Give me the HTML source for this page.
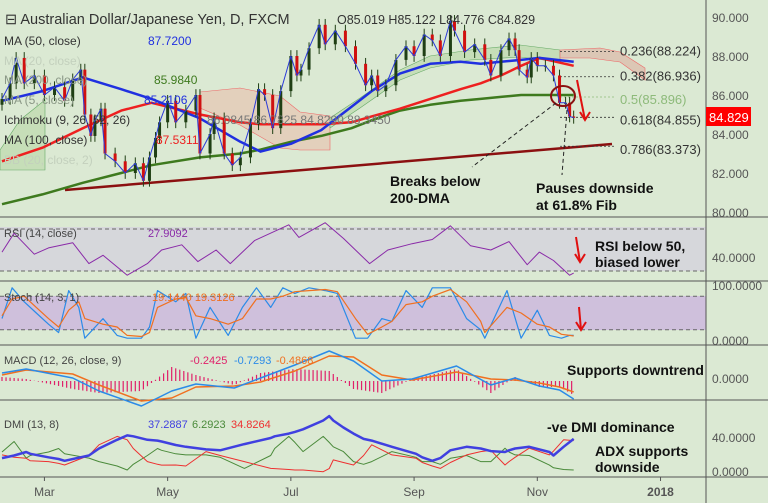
<!DOCTYPE html>
<html><head><meta charset="utf-8"><style>
body{margin:0;background:#dbe9d3;}
svg{display:block;font-family:"Liberation Sans",sans-serif;}
</style></head><body>
<svg id="c" width="768" height="503" viewBox="0 0 768 503" xmlns="http://www.w3.org/2000/svg">
<rect x="0" y="0" width="768" height="503" fill="#dbe9d3"/>
<rect x="0" y="227" width="706" height="44" fill="#d6d7db"/>
<rect x="0" y="296" width="706" height="34" fill="#cfc0dc"/>
<g id="g"></g>
</svg>
<script>
// ===== data =====
const priceDays=[0,4,7,11,16,21,26,31,35,39,41,44,46,49,51,56,61,66,70,73,76,78,82,86,91,96,98,103,105,110,114,118,123,127,130,134,138,143,146,148,152,157,160,165,170,175,180,183,186,190,195,200,204,209,213,217,222,224,229,234,239,242,247,251,254,256,260,262,265,269,273,276,279,281,283];
const closes=[85.8,86.6,87.9,86.6,87.0,86.0,86.4,85.7,86.8,87.3,85.0,83.9,84.7,85.3,83.0,82.6,82.0,82.5,81.6,82.8,83.8,84.6,85.7,84.6,85.2,86.0,83.0,84.0,84.8,83.0,82.4,82.8,84.5,86.3,86.0,84.3,86.2,88.0,87.0,87.3,88.4,89.6,88.6,89.3,88.5,87.6,86.5,87.0,86.2,86.5,87.8,88.5,88.0,89.1,88.8,88.0,89.8,89.3,88.2,88.6,87.8,87.0,88.3,88.9,88.3,87.3,86.9,87.9,87.5,87.5,87.0,85.6,85.6,84.9,84.83];
const maDays=[0,20,40,59,74,98,118,128,143,158,173,183,197,212,227,237,247,257,266,283];
const ma50=[85.7,86.2,86.9,86.3,85.8,84.8,83.6,83.1,83.5,84.2,85.4,86.2,87.1,87.6,87.7,87.6,87.7,87.8,87.9,87.7];
const ma100=[82.6,83.3,84.3,85.2,85.6,85.0,84.6,84.5,84.5,84.5,84.6,84.9,85.3,85.8,86.3,86.6,87.0,87.5,87.9,87.5];
const ma200=[80.4,80.9,81.5,82.0,82.4,82.8,83.0,83.2,83.6,83.9,84.3,84.7,85.2,85.5,85.7,85.8,85.9,86.0,86.0,86.0];
const rsiDays=[0,6,16,23,35,43,50,62,72,79,89,97,106,113,125,142,147,160,169,182,191,203,213,222,232,242,251,260,266,273,281,283];
const rsi=[48,66,46,52,57,37,45,26,37,50,55,39,50,37,59,74,62,76,61,37,50,56,60,73,54,50,58,36,48,40,26,28];
const stDays=[0,5,11,17,23,28,33,38,41,50,57,62,69,73,77,86,91,96,103,112,119,126,133,139,145,152,160,166,175,181,188,193,200,208,213,222,230,237,239,250,257,265,271,277,281,283];
const stochK=[40,95,70,50,30,15,90,60,5,40,10,5,5,25,90,70,85,5,60,10,60,95,60,95,85,95,90,85,5,5,40,35,90,60,95,95,40,20,5,90,5,55,10,5,10,10];
const stochD=[45,75,80,60,40,25,55,70,40,30,25,10,8,15,60,75,78,45,40,30,40,75,75,80,88,90,92,88,40,12,25,35,65,70,80,92,70,35,15,60,50,30,25,12,10,9];
const macdDays=[0,12,35,48,69,84,96,115,128,145,162,174,188,203,225,242,254,266,276,283];
const macd=[0.4,0.6,0.15,-0.5,-1.25,-0.5,-0.15,-0.35,0.15,0.8,1.5,1.0,0.0,0.1,0.75,-0.2,0.15,-0.25,-0.45,-0.9];
const signal=[0.3,0.55,0.35,-0.2,-1.0,-0.85,-0.3,-0.25,-0.05,0.5,1.25,1.2,0.3,0.05,0.45,0.1,0.05,-0.1,-0.3,-0.55];
const dmiDays=[0,6,12,14,23,28,31,43,48,57,62,65,72,77,79,86,91,101,108,120,133,135,142,145,149,159,162,164,169,174,179,183,193,205,208,213,217,222,230,237,242,249,251,254,261,271,273,278,283];
const adx=[17,20,24,22,18,16,14,20,28,38,43,42,38,37,36,32,30,27,26,33,40,42,45,47,50,60,65,60,52,45,39,37,30,22,18,14,17,26,30,28,25,24,26,28,30,24,20,30,39];
const plusDI=[24,36,17,20,24,28,22,17,13,8,3.4,10,20,28,26,22,20.7,20.7,18,5.3,20,28,41.8,35,24.5,41.8,35,30,24.5,13,10,13,24.5,18,13,13,10,16.8,20,13,13,28.3,24,20.7,20,9,6,4,3.4];
const minusDI=[20.7,18,16.8,14,13,11,9.1,20,32.2,41.8,38,28,13,10,9,9.1,8,24.5,20,13,5.3,5,4,3.4,3.4,1.5,5,15,12,9.1,20,32.2,20.7,16.8,12,8,5.3,12,20.7,24.5,26,9.1,13,18,28.3,20.7,25,38,37];
const priceTicks=[80,82,84,86,88,90];
const monthLabels=["Mar","May","Jul","Sep","Nov","2018"];
const monthDays=[21,82,143,204,265,326];

// ===== scales =====
const NS="http://www.w3.org/2000/svg";
const G=document.getElementById('g');
const X=d=>2+2.02*d;
const yP=v=>212-(v-80)*19.5;
const yR=v=>302.5-1.05*v;
const yS=v=>341-0.56*v;
const yM=v=>381-20*v;
const yD=v=>473-0.875*v;
function el(tag,attrs,parent){const e=document.createElementNS(NS,tag);for(const k in attrs)e.setAttribute(k,attrs[k]);(parent||G).appendChild(e);return e;}
function txt(x,y,s,attrs){const t=el('text',Object.assign({x:x,y:y},attrs));t.textContent=s;return t;}
function poly(days,vals,ys,color,w,name){
  const pts=days.map((d,i)=>X(d).toFixed(1)+','+ys(vals[i]).toFixed(1)).join(' ');
  const p=el('polyline',{points:pts,fill:'none',stroke:color,'stroke-width':w,'stroke-linejoin':'round'});
  
  
  return p;
}

// ichimoku clouds (approx)
const c1=el('polygon',{points:'200,92 240,88 280,96 300,112 330,116 330,150 300,150 280,148 240,125 200,108',fill:'#e3d0bc',stroke:'#e66',"stroke-width":0.6});

const c2=el('polygon',{points:'0,150 20,120 45,100 45,170 0,170',fill:'#c6deb8',stroke:'#6a6',"stroke-width":0.6});

const c3=el('polygon',{points:'330,118 360,98 400,70 430,56 470,50 520,45 560,50 560,62 520,57 470,60 430,68 400,80 360,108 330,128',fill:'#c6deb8',stroke:'#6a6',"stroke-width":0.6});

const c4=el('polygon',{points:'560,50 600,48 620,52 645,68 645,80 620,62 590,58 560,58',fill:'#dcc7b5',stroke:'#e66',"stroke-width":0.6});


// separators & axis
[217,281,345,400,477].forEach(y=>{const l=el('line',{x1:0,x2:768,y1:y,y2:y,stroke:'#555','stroke-width':1});});
const ax=el('line',{x1:706,x2:706,y1:0,y2:503,stroke:'#555','stroke-width':1});
[[yR(70)],[yR(30)],[yS(80)],[yS(20)]].forEach(a=>{const l=el('line',{x1:0,x2:706,y1:a[0],y2:a[0],stroke:'#666','stroke-dasharray':'4,3','stroke-width':1});});

// ticks
priceTicks.forEach(v=>{const t=txt(712,yP(v)+5,v.toFixed(3),{fill:'#555','font-size':12});});
const oscTicks=[[262,'40.0000'],[290,'100.0000'],[345,'0.0000'],[383,'0.0000'],[442,'40.0000'],[476,'0.0000']];
oscTicks.forEach(a=>{const t=txt(712,a[0],a[1],{fill:'#555','font-size':12});});
monthLabels.forEach((m,i)=>{const x=X(monthDays[i]);const tk=el('line',{x1:x,x2:x,y1:477,y2:481,stroke:'#555'});
  const t=txt(x,496,m,{fill:'#555','font-size':12,'text-anchor':'middle','font-weight':m==='2018'?'bold':'normal'});});

// trendline and fib
const tl=el('line',{x1:65,y1:190,x2:612,y2:144,stroke:'#8b1010','stroke-width':2.5});
const fibs=[[88.224,'0.236(88.224)','#333',4],[86.936,'0.382(86.936)','#333',4],[85.896,'0.5(85.896)','#8dba7a',7],[84.855,'0.618(84.855)','#333',7],[83.373,'0.786(83.373)','#333',8]];
fibs.forEach(f=>{const y=yP(f[0]);const l=el('line',{x1:560,x2:615,y1:y,y2:y,stroke:f[2],'stroke-dasharray':'2,2','stroke-width':0.8});
  const t=txt(620,y+f[3],f[1],{fill:f[2],'font-size':13});});

// MAs
poly(maDays,ma200,yP,'#3e7a1e',2.5,'ma200-line');
poly(maDays,ma100,yP,'#ee2020',2.5,'ma100-line');
poly(maDays,ma50,yP,'#2030e0',2.5,'ma50-line');

// candles
closes.forEach((c,i)=>{const o=i?closes[i-1]:c-0.3;const x=X(priceDays[i]);const hi=Math.max(o,c)+0.3,lo=Math.min(o,c)-0.3;
  const col=c>=o?'#1f3f14':'#d01010';
  const w=el('line',{x1:x,x2:x,y1:yP(hi),y2:yP(lo),stroke:'#1f3f14','stroke-width':1});
  const b=el('rect',{x:x-1.5,y:Math.min(yP(o),yP(c)),width:3,height:Math.max(1,Math.abs(yP(o)-yP(c))),fill:col});});
poly(priceDays,closes,yP,'#2a3ad8',1,'ma5-line');

// indicators
poly(rsiDays,rsi,yR,'#8a2aa8',1,'rsi-line');
poly(stDays,stochK,yS,'#2b8be8',1.2,'stoch-k-line');
poly(stDays,stochD,yS,'#f07020',1.2,'stoch-d-line');
for(let d=0;d<=283;d+=2){let k=0;while(k<macdDays.length-2&&macdDays[k+1]<d)k++;const t=(d-macdDays[k])/(macdDays[k+1]-macdDays[k]);
  const h=(macd[k]+(macd[k+1]-macd[k])*t)-(signal[k]+(signal[k+1]-signal[k])*t);
  const b=el('rect',{x:X(d)-0.6,y:Math.min(yM(0),yM(h*2)),width:1.2,height:Math.abs(yM(h*2)-yM(0)),fill:'#e0206a'});}
poly(macdDays,signal,yM,'#f07020',1.5,'macd-signal-line');
poly(macdDays,macd,yM,'#2b8be8',1.5,'macd-line');
poly(dmiDays,plusDI,yD,'#4a8a3a',1,'plus-di-line');
poly(dmiDays,minusDI,yD,'#ee3030',1,'minus-di-line');
poly(dmiDays,adx,yD,'#4040e0',2.5,'adx-line');

// circle & arrows
const ci=el('ellipse',{cx:563,cy:96,rx:12,ry:10,fill:'none',stroke:'#8b1010','stroke-width':2});
[[556,103,472,167],[567,110,562,175]].forEach(a=>{const l=el('line',{x1:a[0],y1:a[1],x2:a[2],y2:a[3],stroke:'#222','stroke-dasharray':'4,3'});});
const ar=[[577,80,585,120],[576,237,580,262],[579,307,581,330]];
ar.forEach(a=>{const l=el('line',{x1:a[0],y1:a[1],x2:a[2],y2:a[3],stroke:'#e01010','stroke-width':2});
  const h=el('polyline',{points:(a[2]-5)+','+(a[3]-8)+' '+a[2]+','+a[3]+' '+(a[2]+5)+','+(a[3]-8),fill:'none',stroke:'#e01010','stroke-width':2});});

// price tag
const pt=el('rect',{x:706,y:107,width:45,height:19,fill:'#f00'});
const ptt=txt(709,122,'84.829',{fill:'#fff','font-size':13});

// legend texts
const L=[[5,24,'⊟ Australian Dollar/Japanese Yen, D, FXCM','#333',14.5,'chart-title'],
[337,24,'O85.019   H85.122   L84.776   C84.829','#333',12.5,'ohlc-values'],
[4,45,'MA (50, close)','#333',12,'ma50-legend'],[148,45,'87.7200','#2030e0',12,'ma50-value'],
[4,65,'MA (20, close)','#c3d0bd',12,'ma20-legend'],
[4,84,'MA (200, close)','#8a9786',12,'ma200-legend'],[154,84,'85.9840','#3e7a1e',12,'ma200-value'],
[4,104,'MA (5, close)','#8a9786',12,'ma5-legend'],[144,104,'85.2106','#2030e0',12,'ma5-value'],
[4,124,'Ichimoku (9, 26, 52, 26)','#333',12,'ichimoku-legend'],[207,124,'86.0845    86.7825    84.8290    88.3450','#777',12,'ichimoku-values'],
[4,144,'MA (100, close)','#333',12,'ma100-legend'],[156,144,'87.5311','#ee2020',12,'ma100-value'],
[4,164,'BB (20, close, 2)','#c3d0bd',12,'bb-legend'],
[4,237,'RSI (14, close)','#444',11,'rsi-legend'],[148,237,'27.9092','#8a2aa8',11,'rsi-value'],
[4,301,'Stoch (14, 3, 1)','#444',11,'stoch-legend'],[152,301,'19.1440  19.3126','#f07020',11,'stoch-values'],
[4,364,'MACD (12, 26, close, 9)','#444',11,'macd-legend'],[190,364,'-0.2425','#e0206a',11,'macd-hist-value'],[234,364,'-0.7293','#2b8be8',11,'macd-value'],[276,364,'-0.4868','#f07020',11,'macd-signal-value'],
[4,428,'DMI (13, 8)','#444',11,'dmi-legend'],[148,428,'37.2887','#4040e0',11,'adx-value'],[192,428,'6.2923','#4a8a3a',11,'plus-di-value'],[231,428,'34.8264','#ee3030',11,'minus-di-value']];
L.forEach(a=>{const t=txt(a[0],a[1],a[2],{fill:a[3],'font-size':a[4]});});
const B=[[390,186,'Breaks below'],[390,203,'200-DMA'],[536,193,'Pauses downside'],[536,210,'at 61.8% Fib'],[595,251,'RSI below 50,'],[595,267,'biased lower'],[567,375,'Supports downtrend'],[547,432,'-ve DMI dominance'],[595,456,'ADX supports'],[595,472,'downside']];
B.forEach(a=>{const t=txt(a[0],a[1],a[2],{fill:'#111','font-size':14,'font-weight':'bold'});});
</script>
</body></html>
